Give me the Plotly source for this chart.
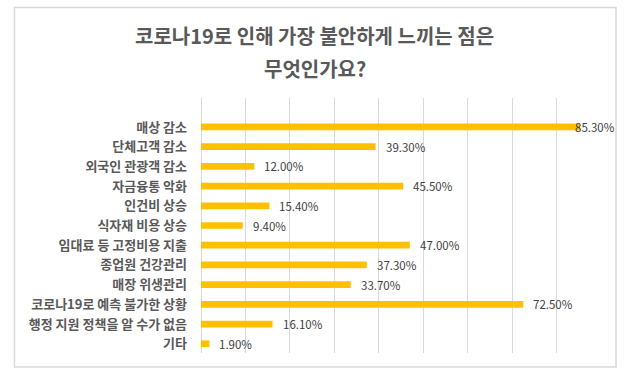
import plotly.graph_objects as go

categories = [
    "매상 감소", "단체고객 감소", "외국인 관광객 감소", "자금융통 악화", "인건비 상승",
    "식자재 비용 상승", "임대료 등 고정비용 지출", "종업원 건강관리", "매장 위생관리",
    "코로나19로 예측 불가한 상황", "행정 지원 정책을 알 수가 없음", "기타",
]
values = [85.3, 39.3, 12.0, 45.5, 15.4, 9.4, 47.0, 37.3, 33.7, 72.5, 16.1, 1.9]
title_line1 = "코로나19로 인해 가장 불안하게 느끼는 점은"
title_line2 = "무엇인가요?"

FONT = "Noto Sans CJK KR"
W, H = 631, 379
ML, MR, MT, MB = 201, 30, 98, 26
PW, PH = W - ML - MR, H - MT - MB


def px_x(x):
    return (x - ML) / PW


def px_y(y):
    return 1 - (y - MT) / PH


fig = go.Figure()
fig.add_trace(go.Bar(
    x=values, y=categories, orientation="h",
    marker=dict(color="#FFC000", line=dict(width=0)),
    width=0.34, hoverinfo="x+y",
))

annotations = []
for c, v in zip(categories, values):
    annotations.append(dict(
        x=v, y=c, xref="x", yref="y", text=f"{v:.2f}%", showarrow=False,
        xanchor="left", yanchor="middle", xshift=(-7 if v > 80 else 8),
        font=dict(family=FONT, size=11.5, color="#404040"),
    ))
annotations.append(dict(
    x=px_x(314.5), y=px_y(35.7), xref="paper", yref="paper", text=title_line1,
    showarrow=False, xanchor="center", yanchor="middle",
    font=dict(family=FONT, size=20, color="#595959", weight="bold"),
))
annotations.append(dict(
    x=px_x(314.5), y=px_y(68.3), xref="paper", yref="paper", text=title_line2,
    showarrow=False, xanchor="center", yanchor="middle",
    font=dict(family=FONT, size=20, color="#595959", weight="bold"),
))

fig.update_layout(
    width=W, height=H,
    margin=dict(l=ML, r=MR, t=MT, b=MB, pad=0),
    paper_bgcolor="white", plot_bgcolor="white",
    showlegend=False,
    annotations=annotations,
    shapes=[dict(
        type="rect", xref="paper", yref="paper",
        x0=px_x(14.5), x1=px_x(616), y0=px_y(367), y1=px_y(7.5),
        line=dict(color="#d9d9d9", width=1.5), fillcolor="rgba(0,0,0,0)", layer="below",
    )],
    xaxis=dict(
        range=[0, 90], dtick=10, showticklabels=False, showgrid=True,
        gridcolor="#d9d9d9", gridwidth=1, zeroline=True, zerolinecolor="#d9d9d9",
        zerolinewidth=1, showline=False, fixedrange=True,
    ),
    yaxis=dict(
        type="category", categoryorder="array", categoryarray=categories,
        range=[11.47, -1.47], autorange=False, showgrid=False, zeroline=False,
        showline=False, ticks="", ticklabelstandoff=13,
        tickfont=dict(family=FONT, size=13, color="#595959", weight="bold"),
        fixedrange=True,
    ),
)

fig.write_html(
    "out.html",
    config={"displayModeBar": False},
    post_script="document.body.style.margin='0';document.body.style.overflow='hidden';",
)
